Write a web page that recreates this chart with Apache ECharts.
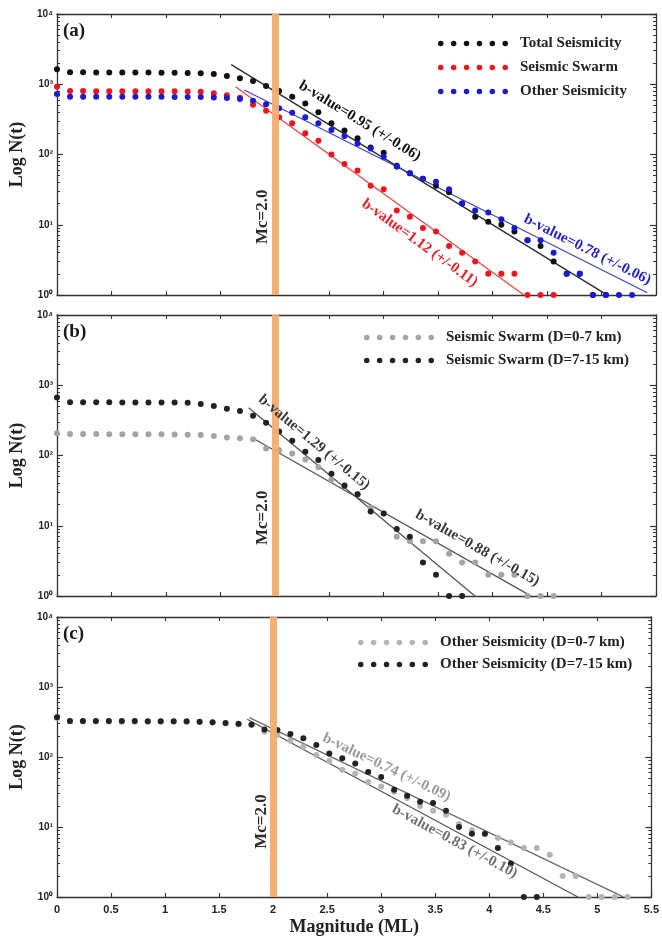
<!DOCTYPE html>
<html>
<head>
<meta charset="utf-8">
<script src="https://cdn.jsdelivr.net/npm/echarts@6/dist/echarts.min.js"></script>
<style>
  html, body { margin: 0; padding: 0; background: #fff; }
  #chart { width: 662px; height: 943px; }
</style>
</head>
<body>
<div id="chart"></div>
<script>
// ---- Frequency-magnitude data: cumulative number of events N(M >= ML) ----
const magnitudes = [0.00, 0.12, 0.24, 0.36, 0.48, 0.60, 0.72, 0.84, 0.96, 1.08,
  1.20, 1.32, 1.44, 1.56, 1.68, 1.80, 1.92, 2.04, 2.16, 2.28,
  2.40, 2.52, 2.64, 2.76, 2.88, 3.00, 3.12, 3.24, 3.36, 3.48,
  3.60, 3.72, 3.84, 3.96, 4.08, 4.20, 4.32, 4.44, 4.56, 4.68,
  4.80, 4.92, 5.04, 5.16, 5.28];

// (a) whole catalogue
const totalSeismicity = [1630, 1480, 1480, 1475, 1475, 1470, 1470, 1465, 1460, 1455,
  1450, 1430, 1400, 1310, 1215, 1110, 945, 800, 665, 530,
  400, 278, 219, 170, 126, 106, 69, 54, 45, 36,
  29, 20, 13, 11, 10, 8, 6, 5, 3, 2,
  2, 1, 1];
const seismicSwarm = [925, 800, 800, 798, 797, 796, 795, 794, 793, 792,
  790, 785, 745, 700, 640, 510, 420, 338, 278, 200,
  157, 100, 73, 59, 36, 32, 16, 13, 9, 8,
  5, 4, 3, 2, 2, 2, 1, 1, 1];
const otherSeismicity = [726, 665, 665, 664, 664, 663, 663, 662, 662, 661,
  660, 660, 650, 635, 617, 583, 518, 454, 394, 339,
  278, 223, 183, 144, 122, 93, 67, 54, 45, 41,
  32, 20, 16, 15, 12, 9, 6, 6, 4, 2,
  2, 1, 1, 1, 1];

// (b) swarm split by depth
const swarmShallow = [207, 202, 202, 202, 201, 201, 201, 200, 200, 199,
  198, 196, 190, 181, 176, 170, 126, 120, 107, 88,
  68, 45, 38, 28, 18, 15, 7, 6, 6, 6,
  4, 3, 3, 2, 2, 2, 1, 1, 1];
const swarmDeep = [670, 572, 572, 571, 571, 570, 570, 569, 568, 566,
  562, 541, 507, 464, 430, 367, 293, 219, 162, 113,
  86, 55, 37, 28, 16, 15, 9, 7, 3, 2,
  1, 1];

// (c) other seismicity split by depth
const otherShallow = [360, 322, 322, 321, 321, 320, 320, 319, 319, 318,
  317, 315, 312, 300, 292, 285, 230, 206, 171, 140,
  107, 88, 66, 58, 44, 38, 32, 26, 20, 17,
  15, 11, 9, 8, 7, 6, 5, 5, 4, 2,
  2, 1, 1, 1, 1];
const otherDeep = [369, 327, 327, 327, 326, 326, 326, 325, 325, 324,
  323, 319, 313, 305, 298, 292, 248, 243, 213, 185,
  148, 112, 96, 81, 61, 52, 34, 28, 23, 22,
  17, 10, 8, 8, 5, 3, 1, 1];

// Gutenberg-Richter fits: log10 N = a - b * ML, drawn over [from, to]
const fitTotal        = { b: 0.95, err: 0.06, a: 4.80, from: 1.60, to: 5.05 };
const fitSwarm        = { b: 1.12, err: 0.11, a: 4.80, from: 1.64, to: 4.29 };
const fitOther        = { b: 0.78, err: 0.06, a: 4.26, from: 1.72, to: 5.42 };
const fitSwarmShallow = { b: 0.88, err: 0.15, a: 3.83, from: 1.80, to: 4.35 };
const fitSwarmDeep    = { b: 1.29, err: 0.15, a: 4.95, from: 1.76, to: 3.84 };
const fitOtherShallow = { b: 0.74, err: 0.09, a: 3.88, from: 1.78, to: 5.24 };
const fitOtherDeep    = { b: 0.83, err: 0.10, a: 4.00, from: 1.76, to: 4.82 };

// Magnitude of completeness
const MC = 2.0;

// Axis tick labels
const decadeLabels = ['10\u2070', '10\u00B9', '10\u00B2', '10\u00B3', '10\u2074'];

// ---- Styling ----
const SERIF = '"Liberation Serif", "Times New Roman", serif';
const SANS = '"Liberation Sans", Arial, sans-serif';
const AXIS = '#333';

const panels = [
  {
    tag: '(a)', grid: { left: 53, top: 14, width: 603, height: 281 },
    legend: { left: 433, top: 31, itemGap: 9 },
    mcAt: 13,
    groups: [
      { name: 'Total Seismicity', values: totalSeismicity, color: '#111111',
        fit: fitTotal, lineColor: '#2a2a2a', textColor: '#111111', at: [2.78, 300] },
      { name: 'Seismic Swarm', values: seismicSwarm, color: '#f0141e',
        fit: fitSwarm, lineColor: '#e04848', textColor: '#e8202a', at: [3.33, 5.5] },
      { name: 'Other Seismicity', values: otherSeismicity, color: '#1a1ad2',
        fit: fitOther, lineColor: '#4646c8', textColor: '#2424cc', at: [4.87, 4.4] }
    ]
  },
  {
    tag: '(b)', grid: { left: 53, top: 315, width: 603, height: 281 },
    legend: { left: 359, top: 325, itemGap: 8 },
    mcAt: 13,
    groups: [
      { name: 'Seismic Swarm (D=0-7 km)', values: swarmShallow, color: '#a4a4a4',
        fit: fitSwarmShallow, lineColor: '#555555', textColor: '#3a3a3a', at: [3.86, 4.8] },
      { name: 'Seismic Swarm (D=7-15 km)', values: swarmDeep, color: '#222222',
        fit: fitSwarmDeep, lineColor: '#555555', textColor: '#3a3a3a', at: [2.36, 153] }
    ]
  },
  {
    tag: '(c)', grid: { left: 53, top: 617, width: 603, height: 280 },
    legend: { left: 353, top: 630, itemGap: 7 },
    mcAt: 12,
    groups: [
      { name: 'Other Seismicity (D=0-7 km)', values: otherShallow, color: '#b4b4b4',
        fit: fitOtherShallow, lineColor: '#6a6a6a', textColor: '#9a9a9a', at: [3.05, 71] },
      { name: 'Other Seismicity (D=7-15 km)', values: otherDeep, color: '#222222',
        fit: fitOtherDeep, lineColor: '#555555', textColor: '#707070', at: [3.68, 6.2] }
    ]
  }
];

// Six-dot legend marker
let dotIcon = 'path://';
for (let j = 0; j < 6; j++) {
  const cx = 3 + 13 * j;
  dotIcon += `M${cx - 2.8},3 a2.8,2.8 0 1,0 5.6,0 a2.8,2.8 0 1,0 -5.6,0 Z `;
}

const fitPoint = (fit, m) => [m, Math.pow(10, fit.a - fit.b * m)];

const grids = [], xAxes = [], yAxes = [], series = [], legends = [];
const noteRefs = [];

panels.forEach((p, gi) => {
  grids.push(Object.assign({ containLabel: false }, p.grid));

  const isLast = gi === panels.length - 1;
  ['bottom', 'top'].forEach(pos => {
    const main = pos === 'bottom';
    xAxes.push({
      type: 'value', gridIndex: gi, position: pos,
      min: 0, max: 5.5, interval: 0.5,
      axisLine: { show: true, onZero: false, lineStyle: { color: AXIS, width: 1.3 } },
      axisTick: { show: true, inside: true, length: 4, lineStyle: { color: AXIS, width: 1.1 } },
      axisLabel: { show: main && isLast, margin: 7, fontFamily: SANS, fontWeight: 'bold',
        fontSize: 11, color: '#222' },
      splitLine: { show: false },
      name: main && isLast ? 'Magnitude (ML)' : '',
      nameLocation: 'middle', nameGap: 21,
      nameTextStyle: { fontFamily: SERIF, fontWeight: 'bold', fontSize: 18, color: '#222' }
    });
  });

  ['left', 'right'].forEach((pos, ai) => {
    const ax = {
      type: 'log', logBase: 10, gridIndex: gi, position: pos, min: 1, max: 10000,
      axisLine: { show: true, onZero: false, lineStyle: { color: AXIS, width: 1.3 } },
      axisTick: { show: true, inside: true, length: 6, lineStyle: { color: AXIS, width: 1.2 } },
      minorTick: { show: true, splitNumber: 9, length: 3, lineStyle: { color: AXIS, width: 1 } },
      axisLabel: { show: false },
      splitLine: { show: false },
      minorSplitLine: { show: false }
    };
    if (ai === 0) {
      ax.axisLabel = {
        show: true, margin: 4, fontFamily: SANS, fontWeight: 'bold', fontSize: 10, color: '#222',
        formatter: v => decadeLabels[Math.round(Math.log10(v))]
      };
      ax.name = 'Log N(t)';
      ax.nameLocation = 'middle';
      ax.nameGap = 21;
      ax.nameTextStyle = { fontFamily: SERIF, fontWeight: 'bold', fontSize: 18, color: '#222' };
    }
    yAxes.push(ax);
  });

  const xi = 2 * gi, yi = 2 * gi;

  // Mc band
  series.push({
    type: 'line', name: 'mc-' + gi, xAxisIndex: xi, yAxisIndex: yi, data: [], z: 1, silent: true,
    markLine: {
      silent: true, symbol: ['none', 'none'], animation: false,
      label: { show: false },
      lineStyle: { color: '#f4ac6c', width: 7, type: 'solid', opacity: 0.95 },
      data: [{ xAxis: MC }]
    }
  });

  p.groups.forEach((g, k) => {
    series.push({
      type: 'line', name: 'fit-' + gi + '-' + k, xAxisIndex: xi, yAxisIndex: yi,
      data: [fitPoint(g.fit, g.fit.from), fitPoint(g.fit, g.fit.to)],
      symbol: 'none', lineStyle: { color: g.lineColor, width: 1.3 }, z: 3, silent: true
    });
  });

  p.groups.forEach(g => {
    noteRefs.push({ seriesIndex: series.length, group: g });
    series.push({
      type: 'scatter', name: g.name, xAxisIndex: xi, yAxisIndex: yi,
      data: g.values.map((n, k) => [magnitudes[k], n]),
      symbolSize: 6, itemStyle: { color: g.color, opacity: 1 }, z: 4, clip: false, silent: true
    });
  });
  p.scatterIndex = series.length - 1;

  legends.push({
    orient: 'vertical', left: p.legend.left, top: p.legend.top, itemGap: p.legend.itemGap,
    itemWidth: 70, itemHeight: 6, icon: dotIcon, selectedMode: false,
    data: p.groups.map(g => g.name),
    textStyle: { fontFamily: SERIF, fontWeight: 'bold', fontSize: 15, color: '#222',
      padding: [0, 0, 0, 7] }
  });
});

const chart = echarts.init(document.getElementById('chart'), null, { renderer: 'canvas' });
chart.setOption({
  animation: false,
  backgroundColor: '#ffffff',
  grid: grids, xAxis: xAxes, yAxis: yAxes, legend: legends, series: series
});

// ---- Annotations placed in data coordinates ----
const graphics = [];
panels.forEach(p => {
  graphics.push({
    type: 'text', x: p.grid.left + 10, y: p.grid.top + 17, z: 10,
    style: { text: p.tag, font: `bold 19px ${SERIF}`, fill: '#1a1a1a',
      align: 'left', verticalAlign: 'middle', textAlign: 'left', textVerticalAlign: 'middle' }
  });
  const mc = chart.convertToPixel({ seriesIndex: p.scatterIndex }, [1.89, p.mcAt]);
  graphics.push({
    type: 'text', x: mc[0], y: mc[1], rotation: Math.PI / 2, z: 10,
    style: { text: 'Mc=' + MC.toFixed(1), font: `bold 17px ${SERIF}`, fill: '#2a2a2a',
      align: 'center', verticalAlign: 'middle', textAlign: 'center', textVerticalAlign: 'middle' }
  });
});
noteRefs.forEach(({ seriesIndex, group }) => {
  const f = group.fit;
  const p1 = chart.convertToPixel({ seriesIndex }, fitPoint(f, f.from));
  const p2 = chart.convertToPixel({ seriesIndex }, fitPoint(f, f.to));
  const angle = Math.atan2(p2[1] - p1[1], p2[0] - p1[0]);
  const c = chart.convertToPixel({ seriesIndex }, group.at);
  graphics.push({
    type: 'text', x: c[0], y: c[1], rotation: -angle, z: 10,
    style: { text: `b-value=${f.b.toFixed(2)} (+/-${f.err.toFixed(2)})`,
      font: `bold 15px ${SERIF}`, fill: group.textColor,
      align: 'center', verticalAlign: 'middle', textAlign: 'center', textVerticalAlign: 'middle' }
  });
});
chart.setOption({ graphic: graphics });
</script>
</body>
</html>
